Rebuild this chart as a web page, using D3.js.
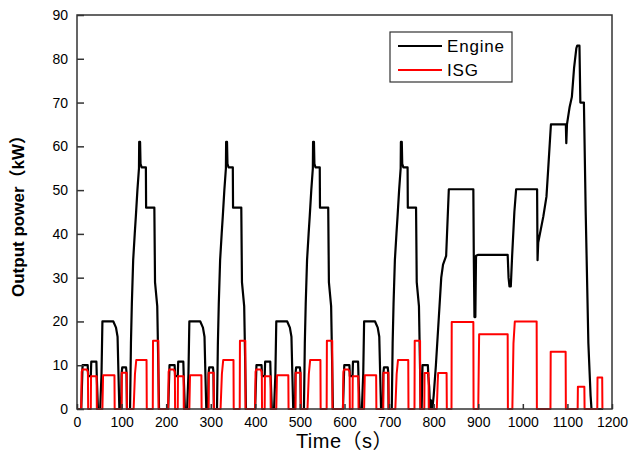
<!DOCTYPE html>
<html>
<head>
<meta charset="utf-8">
<script src="https://cdn.jsdelivr.net/npm/d3@7"></script>
<style>
  body { margin: 0; background: #fff; }
  svg { display: block; font-family: "Liberation Sans", Arial, "Noto Sans CJK SC", sans-serif; }
</style>
</head>
<body>
<svg id="chart" width="630" height="457"></svg>
<script>
// [time (s), power (kW)]
const engineUrban1 = [[0,0],[9.5,0],[11,5],[12.5,10],[24,10],[25,7.5],[31,7.5],[32,10.8],[43.5,10.8],[44.5,7],[47,0],[52,0],[55,8],[57,20],[81.5,20],[87.5,18.6],[91,16.5],[93,8],[95,0],[99,0],[100,8],[101.5,9.5],[110,9.5],[111,8.5],[112,0],[119,0],[121,15],[123,24],[126,34],[129.5,40],[132,44],[135.5,50],[139,55],[139.5,61],[141.5,61],[142.5,56],[145,55.2],[154.5,55.2],[155,46],[173.5,46],[175,29],[180,23.5],[182,12],[184,0],[195,0]];
const engineUrban2 = [[204.5,0],[206,5],[207.5,10],[219,10],[220,7.5],[226,7.5],[227,10.8],[238.5,10.8],[239.5,7],[242,0],[247,0],[250,8],[252,20],[276.5,20],[282.5,18.6],[286,16.5],[288,8],[290,0],[294,0],[295,8],[296.5,9.5],[305,9.5],[306,8.5],[307,0],[314,0],[316,15],[318,24],[321,34],[324.5,40],[327,44],[330.5,50],[334,55],[334.5,61],[336.5,61],[337.5,56],[340,55.2],[349.5,55.2],[350,46],[368.5,46],[370,29],[375,23.5],[377,12],[379,0],[390,0]];
const engineUrban3 = [[399.5,0],[401,5],[402.5,10],[414,10],[415,7.5],[421,7.5],[422,10.8],[433.5,10.8],[434.5,7],[437,0],[442,0],[445,8],[447,20],[471.5,20],[477.5,18.6],[481,16.5],[483,8],[485,0],[489,0],[490,8],[491.5,9.5],[500,9.5],[501,8.5],[502,0],[509,0],[511,15],[513,24],[516,34],[519.5,40],[522,44],[525.5,50],[529,55],[529.5,61],[531.5,61],[532.5,56],[535,55.2],[544.5,55.2],[545,46],[563.5,46],[565,29],[570,23.5],[572,12],[574,0],[587,0]];
const engineUrban4 = [[596.5,0],[598,5],[599.5,10],[611,10],[612,7.5],[618,7.5],[619,10.8],[630.5,10.8],[631.5,7],[634,0],[639,0],[642,8],[644,20],[668.5,20],[674.5,18.6],[678,16.5],[680,8],[682,0],[686,0],[687,8],[688.5,9.5],[697,9.5],[698,8.5],[699,0],[706,0],[708,15],[710,24],[713,34],[716.5,40],[719,44],[722.5,50],[726,55],[726.5,61],[728.5,61],[729.5,56],[732,55.2],[741.5,55.2],[742,46],[760.5,46],[762,29],[767,23.5],[769,12],[771,0]];
const engineExtraUrban = [[773,0],[775,10],[787,10],[788,7.5],[790,5],[792,0],[794,2],[795,0],[797,0],[800,3],[805,10],[811,20],[817,30],[821,33],[828,35],[834,50.2],[889,50.2],[890,35],[891.5,21],[893.5,21],[895,35],[899,35.2],[966,35.2],[968,30],[970,28],[973,28],[976,35],[981,45],[985,50.2],[1032,50.2],[1033,34],[1034.5,38],[1046,44],[1053,48.5],[1057,55],[1063,65],[1096.5,65],[1097.5,60.7],[1099,65],[1105,69],[1110,71.3],[1115,78],[1120,82.4],[1122,83],[1127,83],[1129,70],[1137,70],[1141,45],[1147,15],[1152,3],[1154,0],[1180,0]];

const isgUrban1 = [[0,0],[9.5,0],[10.5,8.5],[12,9],[22,9],[24.5,8.5],[25,0],[31,0],[31.5,7.5],[44,7.5],[44.5,0],[57,0],[58.5,7.7],[84,7.7],[84.5,0],[100,0],[100.5,8.3],[111.5,8.3],[112,0],[127,0],[130,8],[133,11.2],[156,11.2],[156.5,0],[170,0],[170.5,15.6],[182.5,15.6],[183,0],[195,0]];
const isgUrban2 = [[204.5,0],[205.5,8.5],[207,9],[217,9],[219.5,8.5],[220,0],[226,0],[226.5,7.5],[239,7.5],[239.5,0],[252,0],[253.5,7.7],[279,7.7],[279.5,0],[295,0],[295.5,8.3],[306.5,8.3],[307,0],[322,0],[325,8],[328,11.2],[351,11.2],[351.5,0],[365,0],[365.5,15.6],[377.5,15.6],[378,0],[390,0]];
const isgUrban3 = [[399.5,0],[400.5,8.5],[402,9],[412,9],[414.5,8.5],[415,0],[421,0],[421.5,7.5],[434,7.5],[434.5,0],[447,0],[448.5,7.7],[474,7.7],[474.5,0],[490,0],[490.5,8.3],[501.5,8.3],[502,0],[517,0],[520,8],[523,11.2],[546,11.2],[546.5,0],[560,0],[560.5,15.6],[572.5,15.6],[573,0],[587,0]];
const isgUrban4 = [[596.5,0],[597.5,8.5],[599,9],[609,9],[611.5,8.5],[612,0],[618,0],[618.5,7.5],[631,7.5],[631.5,0],[644,0],[645.5,7.7],[671,7.7],[671.5,0],[687,0],[687.5,8.3],[698.5,8.3],[699,0],[714,0],[717,8],[720,11.2],[743,11.2],[743.5,0],[757,0],[757.5,15.6],[769.5,15.6],[770,0]];
const isgExtraUrban = [[779,0],[779.5,8.2],[788.5,8.2],[789,0],[807,0],[809,6],[810,8.2],[829,8.2],[829.5,0],[840,0],[840.5,19.9],[889,19.9],[889.5,0],[900,0],[902,17.1],[966,17.1],[966.5,0],[976.5,0],[979,15],[982,20],[1031,20],[1031.5,0],[1062,0],[1062.5,13.1],[1096,13.1],[1096.5,0],[1123,0],[1123.5,5.1],[1138,5.1],[1138.5,0],[1167,0],[1167.5,7.2],[1178,7.2],[1178.5,0]];

const xTicks = [0,100,200,300,400,500,600,700,800,900,1000,1100,1200];
const yTicks = [0,10,20,30,40,50,60,70,80,90];

const engine = [].concat(engineUrban1, engineUrban2, engineUrban3, engineUrban4, engineExtraUrban);
const isg = [].concat(isgUrban1, isgUrban2, isgUrban3, isgUrban4, isgExtraUrban);

const width = 630, height = 457;
const margin = { top: 15, right: 18, bottom: 48, left: 77 };
const plotW = width - margin.left - margin.right;
const plotH = height - margin.top - margin.bottom;

const svg = d3.select('#chart');
const g = svg.append('g').attr('transform', `translate(${margin.left},${margin.top})`);

const x = d3.scaleLinear().domain([0, 1200]).range([0, plotW]);
const y = d3.scaleLinear().domain([0, 90]).range([plotH, 0]);

const line = d3.line().x(d => x(d[0])).y(d => y(d[1]));

g.append('path').datum(engine)
    .attr('d', line).attr('fill', 'none')
    .attr('stroke', '#000').attr('stroke-width', 2.2).attr('stroke-linejoin', 'round');

g.append('path').datum(isg)
    .attr('d', line).attr('fill', 'none')
    .attr('stroke', '#ff0000').attr('stroke-width', 2).attr('stroke-linejoin', 'round');

// frame
g.append('rect').attr('width', plotW).attr('height', plotH)
    .attr('fill', 'none').attr('stroke', '#333').attr('stroke-width', 1.5);

const xAxis = g.append('g').attr('transform', `translate(0,${plotH})`)
    .call(d3.axisBottom(x).tickValues(xTicks).tickFormat(d3.format('d'))
        .tickSizeInner(-5).tickSizeOuter(0).tickPadding(8));
const yAxis = g.append('g')
    .call(d3.axisLeft(y).tickValues(yTicks).tickFormat(d3.format('d'))
        .tickSizeInner(-7).tickSizeOuter(0).tickPadding(9));

[xAxis, yAxis].forEach(a => {
    a.select('.domain').remove();
    a.selectAll('line').attr('stroke', '#333').attr('stroke-width', 1.5);
    a.selectAll('text').attr('fill', '#000').style('font-size', '14px')
        .style('font-family', '"Liberation Sans", Arial, sans-serif');
});

// axis titles
svg.append('text')
    .attr('transform', `translate(24,${margin.top + plotH / 2}) rotate(-90)`)
    .attr('text-anchor', 'middle')
    .style('font-size', '17px').style('font-weight', 'bold')
    .text('Output power（kW）');

svg.append('text')
    .attr('x', margin.left + plotW / 2).attr('y', 448)
    .attr('text-anchor', 'middle')
    .style('font-size', '20px').style('letter-spacing', '0.5px')
    .text('Time（s）');

// legend
const legend = svg.append('g').attr('transform', 'translate(390,32)');
legend.append('rect').attr('width', 122).attr('height', 50)
    .attr('fill', '#fff').attr('stroke', '#333').attr('stroke-width', 1.2);
const items = [['Engine', '#000'], ['ISG', '#ff0000']];
items.forEach((it, i) => {
    const yy = 14 + i * 24;
    legend.append('line').attr('x1', 8).attr('x2', 52).attr('y1', yy).attr('y2', yy)
        .attr('stroke', it[1]).attr('stroke-width', 2);
    legend.append('text').attr('x', 57).attr('y', yy + 6)
        .style('font-size', '17px').style('letter-spacing', '0.8px')
        .text(it[0]);
});
</script>
</body>
</html>
